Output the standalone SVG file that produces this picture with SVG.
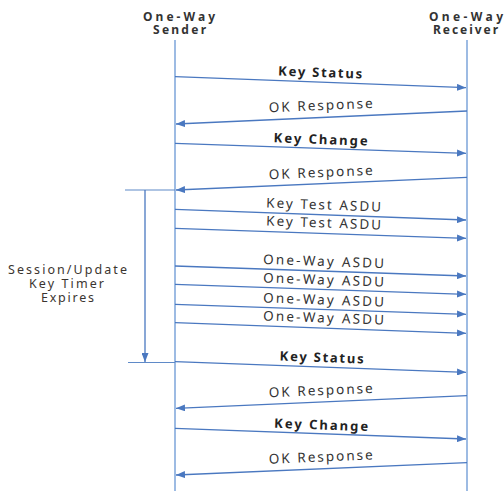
<svg xmlns="http://www.w3.org/2000/svg" width="504" height="491" viewBox="0 0 504 491">
<defs>
<marker id="ah" markerWidth="9" markerHeight="7" refX="9" refY="3.5" orient="auto" markerUnits="userSpaceOnUse">
<path d="M0,0 L9,3.5 L0,7 Z" fill="#4a78c0"/>
</marker>
</defs>
<style>
.life{stroke:#9dbbe3;stroke-width:2;fill:none}
.msg{stroke:#4a78c0;stroke-width:1.3;fill:none;marker-end:url(#ah)}
.tick{stroke:#5f8ac8;stroke-width:1.2;fill:none}
.hdr{font-family:"Noto Sans","Noto Sans CJK KR",sans-serif;font-weight:bold;font-size:12px;fill:#333;text-anchor:middle}
.lb{font-family:"Noto Sans","Noto Sans CJK KR",sans-serif;font-size:13.5px;fill:#333;text-anchor:middle}
.lbb{font-family:"Noto Sans","Noto Sans CJK KR",sans-serif;font-weight:bold;font-size:13px;fill:#222;text-anchor:middle}
.side{font-family:"Noto Sans","Noto Sans CJK KR",sans-serif;font-size:12.5px;fill:#3b3530;text-anchor:middle}
</style>
<g id="sender">
<text class="hdr" x="179" y="21" textLength="72" lengthAdjust="spacing">One-Way</text>
<text class="hdr" x="179.5" y="34" textLength="53" lengthAdjust="spacing">Sender</text>
<line class="life" x1="175" y1="40" x2="175" y2="491"/>
</g>
<g id="receiver">
<text class="hdr" x="466" y="21" textLength="74" lengthAdjust="spacing">One-Way</text>
<text class="hdr" x="465.5" y="34" textLength="65" lengthAdjust="spacing">Receiver</text>
<line class="life" x1="467" y1="40" x2="467" y2="491"/>
</g>
<g id="timer">
<line class="tick" x1="125" y1="190" x2="175" y2="190"/>
<line class="tick" x1="128" y1="362.5" x2="175" y2="362.5"/>
<line class="msg" x1="145" y1="190" x2="145" y2="362"/>
<text class="side" x="67.5" y="274" textLength="119" lengthAdjust="spacing">Session/Update</text>
<text class="side" x="66.5" y="288" textLength="75" lengthAdjust="spacing">Key Timer</text>
<text class="side" x="67.5" y="302" textLength="53" lengthAdjust="spacing">Expires</text>
</g>
<g id="connectors">
<line class="msg" x1="175" y1="76.7" x2="466" y2="87.7"/>
<line class="msg" x1="467" y1="111" x2="176" y2="124"/>
<line class="msg" x1="175" y1="143.3" x2="466" y2="153.3"/>
<line class="msg" x1="467" y1="177.3" x2="176" y2="190"/>
<line class="msg" x1="175" y1="209.3" x2="466" y2="220"/>
<line class="msg" x1="175" y1="228.3" x2="466" y2="238.3"/>
<line class="msg" x1="175" y1="266" x2="466" y2="276"/>
<line class="msg" x1="175" y1="284.3" x2="466" y2="294.3"/>
<line class="msg" x1="175" y1="304.3" x2="466" y2="314.3"/>
<line class="msg" x1="175" y1="322.7" x2="466" y2="333.3"/>
<line class="msg" x1="175" y1="361.7" x2="466" y2="372.3"/>
<line class="msg" x1="467" y1="395.7" x2="176" y2="408.3"/>
<line class="msg" x1="175" y1="428.3" x2="466" y2="439"/>
<line class="msg" x1="467" y1="462.7" x2="176" y2="475"/>
</g>
<g id="labels">
<text class="lbb" transform="translate(320,77) rotate(2)" textLength="84" lengthAdjust="spacing">Key Status</text>
<text class="lb" transform="translate(321,110) rotate(-2.4)" textLength="104" lengthAdjust="spacing">OK Response</text>
<text class="lbb" transform="translate(320.5,144) rotate(2)" textLength="94" lengthAdjust="spacing">Key Change</text>
<text class="lb" transform="translate(321,177) rotate(-2.4)" textLength="104" lengthAdjust="spacing">OK Response</text>
<text class="lb" transform="translate(323.5,209.5) rotate(2)" textLength="115" lengthAdjust="spacing">Key Test ASDU</text>
<text class="lb" transform="translate(323.5,227.5) rotate(2)" textLength="115" lengthAdjust="spacing">Key Test ASDU</text>
<text class="lb" transform="translate(323.5,266) rotate(2)" textLength="121" lengthAdjust="spacing">One-Way ASDU</text>
<text class="lb" transform="translate(323.5,284.5) rotate(2)" textLength="121" lengthAdjust="spacing">One-Way ASDU</text>
<text class="lb" transform="translate(323.5,304.5) rotate(2)" textLength="121" lengthAdjust="spacing">One-Way ASDU</text>
<text class="lb" transform="translate(323.5,322.5) rotate(2)" textLength="121" lengthAdjust="spacing">One-Way ASDU</text>
<text class="lbb" transform="translate(321.5,362) rotate(2)" textLength="84" lengthAdjust="spacing">Key Status</text>
<text class="lb" transform="translate(321,395) rotate(-2.4)" textLength="104" lengthAdjust="spacing">OK Response</text>
<text class="lbb" transform="translate(321,429.5) rotate(2)" textLength="94" lengthAdjust="spacing">Key Change</text>
<text class="lb" transform="translate(321,461.5) rotate(-2.4)" textLength="104" lengthAdjust="spacing">OK Response</text>
</g>
</svg>
